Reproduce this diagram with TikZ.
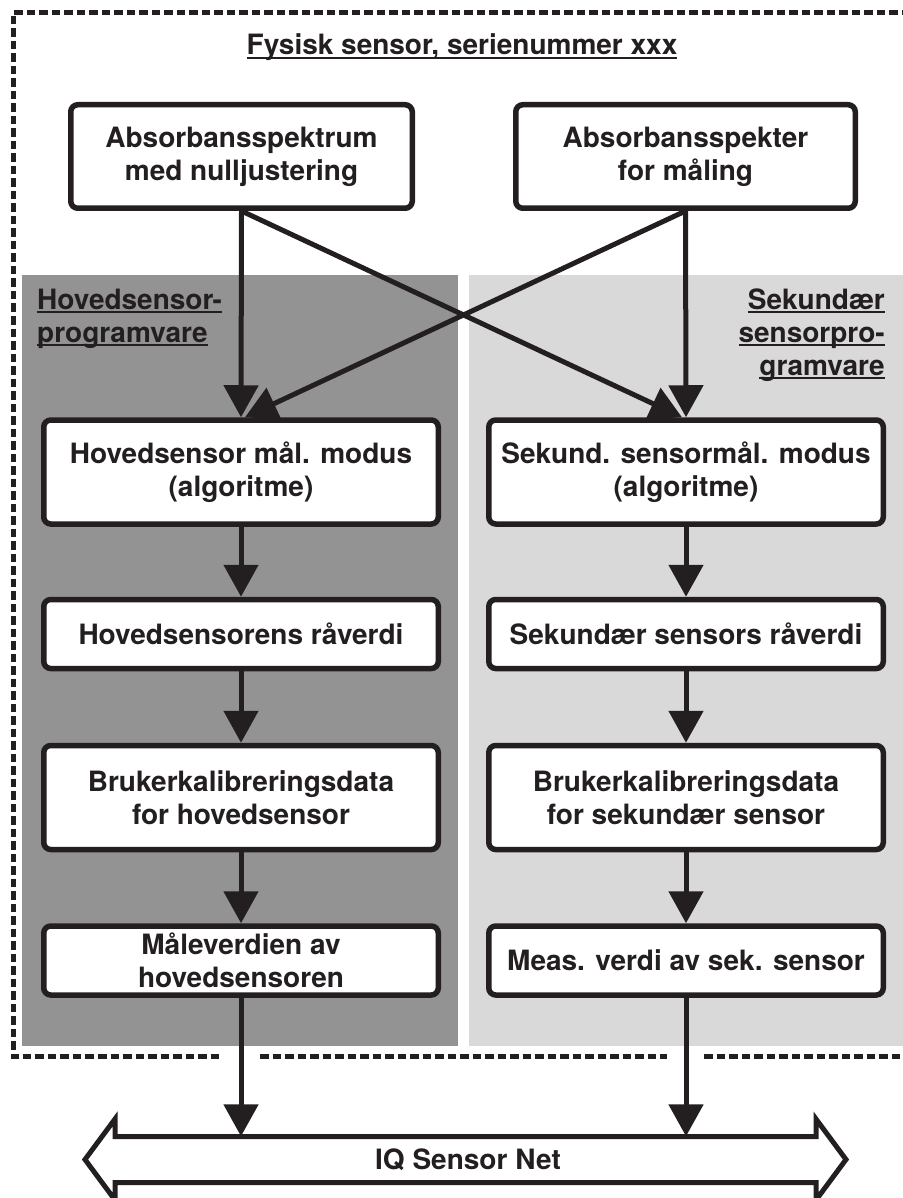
\documentclass[tikz,border=0pt]{standalone}
\usepackage{fontspec}
\setmainfont{TeX Gyre Heros}
\usetikzlibrary{arrows.meta}
\definecolor{ink}{RGB}{35,31,32}
\definecolor{darkpanel}{RGB}{147,147,147}
\definecolor{lightpanel}{RGB}{217,217,217}
\newcommand{\boxfont}{\fontsize{28}{33}\selectfont\bfseries}
\newcommand{\undl}[1]{\setbox0=\hbox{#1}\rlap{\rule[-4pt]{\wd0}{2pt}}\box0}
\tikzset{
    box/.style={draw=ink, fill=white, line width=5.5pt, rounded corners=7pt, align=center, text=ink, font=\boxfont, inner sep=0pt},
    tallbox/.style={box, minimum width=394.5pt, minimum height=104pt},
    flatbox/.style={box, minimum width=394.5pt, minimum height=69pt},
    heading/.style={text=ink, font=\boxfont, inner sep=0pt},
    flow/.style={draw=ink, line width=5pt, -{Triangle[length=32pt,width=34pt]}},
    frame/.style={draw=ink, line width=5pt, dash pattern=on 8.5pt off 4pt}
}

\begin{document}
\begin{tikzpicture}[x=1pt,y=-1pt]
                \useasboundingbox (0,0) rectangle (902,1198);
                % panels
                \fill [darkpanel] (22,275) rectangle (458,1046);
                \fill [lightpanel] (469,275) rectangle (910,1046);
                \draw [frame] (910,13) -- (13,13) -- (13,1056) -- (222,1056);
                \draw [frame] (260,1056) -- (667,1056);
                \draw [frame] (704,1056) -- (910,1056);
                \node [heading, anchor=base] (title) at (462,55) {\undl{Fysisk sensor, serienummer xxx}};
                \node [heading, anchor=north west, align=left] (hlab) at (37,288.5) {\undl{Hovedsensor-}\\\undl{programvare}};
                \node [heading, anchor=north east, align=right] (slab) at (885,288.5) {\undl{Sekundær}\\\undl{sensorpro-}\\\undl{gramvare}};
                % boxes
                \node [box, minimum width=341.5pt, minimum height=103.5pt] (a1) at (241.5,156.5) {Absorbansspektrum\\med nulljustering};
                \node [box, minimum width=339.5pt, minimum height=103.5pt] (a2) at (685.5,156.5) {Absorbansspekter\\for måling};
                \node [tallbox] (hs) at (241,472) {Hovedsensor mål. modus\\(algoritme)};
                \node [tallbox] (ss) at (686,472) {Sekund. sensormål. modus\\(algoritme)};
                \node [flatbox] (hr) at (241,634) {Hovedsensorens råverdi};
                \node [flatbox] (sr) at (686,634) {Sekundær sensors råverdi};
                \node [tallbox] (hk) at (241,797.5) {Brukerkalibreringsdata\\for hovedsensor};
                \node [tallbox] (sk) at (686,797.5) {Brukerkalibreringsdata\\for sekundær sensor};
                \node [flatbox] (hm) at (241,960.5) {Måleverdien av\\hovedsensoren};
                \node [flatbox] (sm) at (686,960.5) {Meas. verdi av sek. sensor};
                % bus
                \draw [draw=ink, line width=5pt] (85,1159.5) -- (115,1119) -- (115,1136.5) -- (816,1136.5) -- (816,1119) -- (846,1159.5) -- (816,1200) -- (816,1182.5) -- (115,1182.5) -- (115,1200) -- cycle;
                \node [heading, minimum width=300pt, minimum height=46pt] (iq) at (468,1159.5) {IQ Sensor Net};
                % arrows
                \draw [flow] (a1.south) -- (hs.north);
                \draw [flow] (a1.south) -- ([xshift=-4pt]ss.north);
                \draw [flow] (a2.south) -- ([xshift=4pt]hs.north);
                \draw [flow] (a2.south) -- (ss.north);
                \draw [flow] (hs) -- (hr);
                \draw [flow] (hr) -- (hk);
                \draw [flow] (hk) -- (hm);
                \draw [flow] (ss) -- (sr);
                \draw [flow] (sr) -- (sk);
                \draw [flow] (sk) -- (sm);
                \draw [flow] (hm.south) -- (hm.south |- iq.north);
                \draw [flow] (sm.south) -- (sm.south |- iq.north);
      \end{tikzpicture}
\end{document}
